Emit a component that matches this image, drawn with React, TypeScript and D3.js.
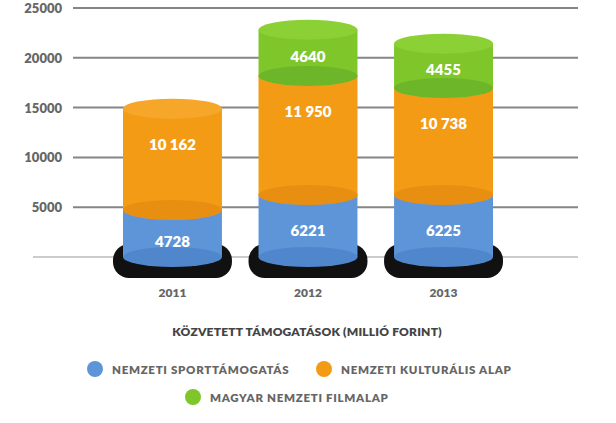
import React from "react";
import * as d3 from "d3";

const years = ["2011", "2012", "2013"];
const sport = [4728, 6221, 6225];
const kultura = [10162, 11950, 10738];
const film = [0, 4640, 4455];
const yTicks = [5000, 10000, 15000, 20000, 25000];

const seriesNames = ["NEMZETI SPORTTÁMOGATÁS", "NEMZETI KULTURÁLIS ALAP", "MAGYAR NEMZETI FILMALAP"];
const title = "KÖZVETETT TÁMOGATÁSOK (MILLIÓ FORINT)";

const palette = [
  { body: "#5e95d8", top: "#6a9fdd", bottom: "#4f86cc" },
  { body: "#f49b16", top: "#f6a72a", bottom: "#e88f12" },
  { body: "#7ec62a", top: "#8bd034", bottom: "#6db629" },
];
const legendColors = ["#5e95d8", "#f49b16", "#7ec62a"];

const fmt = (v: number) => (v >= 10000 ? d3.format(",")(v).replace(",", " ") : String(v));

const W = 616;
const H = 423;
const font = "Lato, 'Open Sans', sans-serif";

export default function App() {
  const x = d3.scaleBand().domain(years).range([123, 493]).paddingInner(0.27).paddingOuter(0);
  const y = d3.scaleLinear().domain([0, 25000]).range([257, 8]);
  const bw = x.bandwidth();
  const ry = 10;

  const stack = d3.stack<number>().keys(["0", "1", "2"]).value((i, k) => [sport, kultura, film][+k][i]);
  const series = stack(years.map((_, i) => i));

  return (
    <svg width={W} height={H} style={{ position: "absolute", left: 0, top: 0 }}>
      {yTicks.map((t) => (
        <g key={t}>
          <line x1={73} x2={578} y1={y(t)} y2={y(t)} stroke="#858585" strokeWidth={2} />
          <text x={62} y={y(t)} textAnchor="end" dominantBaseline="central" fontFamily={font} fontWeight={800} fontSize={13} fill="#666">
            {t}
          </text>
        </g>
      ))}
      <line x1={33} x2={578} y1={y(0)} y2={y(0)} stroke="#999" strokeWidth={1} />
      {years.map((yr) => {
        const cx = x(yr)! + bw / 2;
        return (
          <rect key={"s" + yr} x={cx - bw / 2 - 10} y={y(0) - 13} width={bw + 20} height={34} rx={16} fill="#111" />
        );
      })}
      {years.map((yr, i) => {
        const x0 = x(yr)!;
        const cx = x0 + bw / 2;
        return (
          <g key={yr}>
            {series.map((s, k) => {
              const [lo, hi] = s[i];
              if (hi - lo <= 0) return null;
              const yt = y(hi);
              const yb = y(lo);
              const c = palette[k];
              const segH = yb - yt + (k === 0 ? ry : 0);
              const off = Math.min(35, segH / 2 + 3);
              return (
                <g key={k}>
                  <rect x={x0} y={yt} width={bw} height={yb - yt} fill={c.body} />
                  <ellipse cx={cx} cy={yb} rx={bw / 2} ry={ry} fill={c.bottom} />
                  <ellipse cx={cx} cy={yt} rx={bw / 2} ry={ry} fill={c.top} />
                  <text x={cx} y={yt + off} textAnchor="middle" dominantBaseline="central" fontFamily={font} fontWeight={800} fontSize={15} fill="#fff">
                    {fmt(hi - lo)}
                  </text>
                </g>
              );
            })}
            <text x={cx} y={292} textAnchor="middle" dominantBaseline="central" fontFamily={font} fontWeight={800} fontSize={12} fill="#666">
              {yr}
            </text>
          </g>
        );
      })}
      <text x={307} y={331} textAnchor="middle" dominantBaseline="central" fontFamily={font} fontWeight={800} fontSize={12} fill="#444" letterSpacing={0.2}>
        {title}
      </text>
      {[
        { cx: 95, cy: 369 },
        { cx: 324, cy: 369 },
        { cx: 193, cy: 397 },
      ].map((p, k) => (
        <g key={k}>
          <circle cx={p.cx} cy={p.cy} r={8} fill={legendColors[k]} />
          <text x={p.cx + 17} y={p.cy} dominantBaseline="central" fontFamily={font} fontWeight={800} fontSize={11.5} fill="#666" letterSpacing={0.7}>
            {seriesNames[k]}
          </text>
        </g>
      ))}
    </svg>
  );
}
